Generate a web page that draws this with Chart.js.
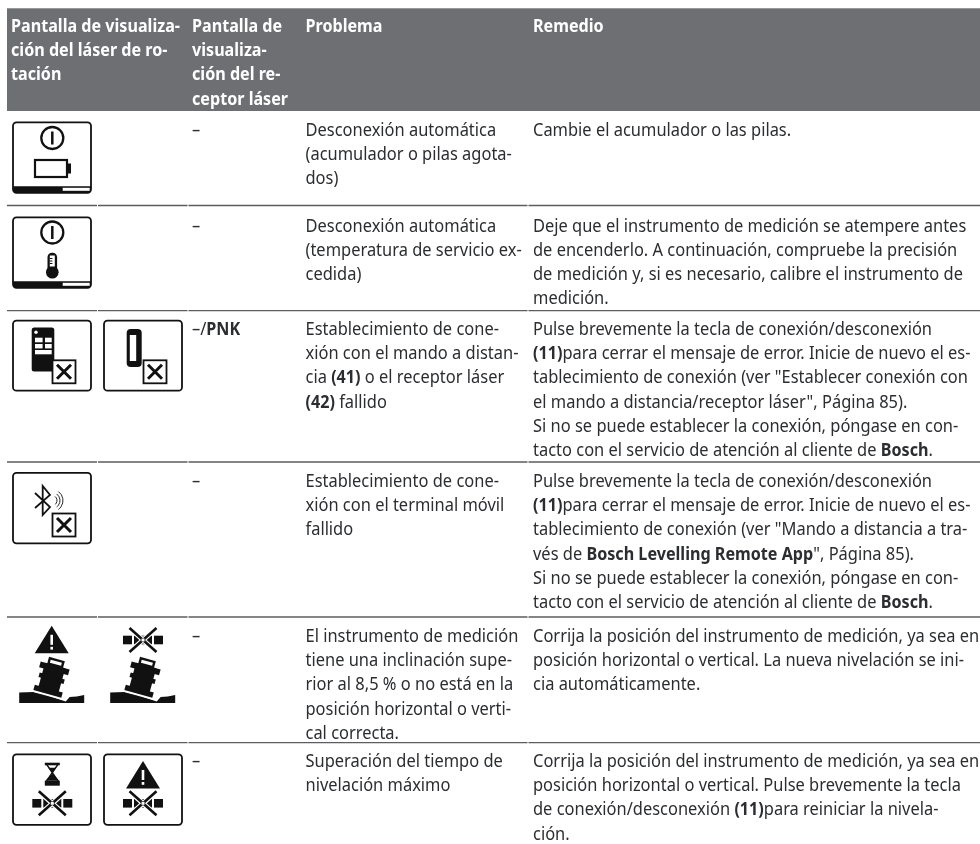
<!DOCTYPE html>
<html>
<head>
<meta charset="utf-8">
<style>
  html, body { margin: 0; padding: 0; background: #fff; }
  #wrap { position: relative; width: 980px; height: 844px; }
</style>
<script src="https://cdn.jsdelivr.net/npm/chart.js@4"></script>
</head>
<body>
<div id="wrap"><canvas id="tableChart"></canvas></div>
<script>
// text of the table, ** marks bold runs
const headers = [
  ['Pantalla de visualiza-', 'ción del láser de ro-', 'tación'],
  ['Pantalla de', 'visualiza-', 'ción del re-', 'ceptor láser'],
  ['Problema'],
  ['Remedio']
];
const receiverCol = ['–', '–', '–/**PNK**', '–', '–', '–'];
const problems = [
  ['Desconexión automática', '(acumulador o pilas agota-', 'dos)'],
  ['Desconexión automática', '(temperatura de servicio ex-', 'cedida)'],
  ['Establecimiento de cone-', 'xión con el mando a distan-', 'cia **(41)** o el receptor láser', '**(42)** fallido'],
  ['Establecimiento de cone-', 'xión con el terminal móvil', 'fallido'],
  ['El instrumento de medición', 'tiene una inclinación supe-', 'rior al 8,5 % o no está en la', 'posición horizontal o verti-', 'cal correcta.'],
  ['Superación del tiempo de', 'nivelación máximo']
];
const remedies = [
  ['Cambie el acumulador o las pilas.'],
  ['Deje que el instrumento de medición se atempere antes', 'de encenderlo. A continuación, compruebe la precisión', 'de medición y, si es necesario, calibre el instrumento de', 'medición.'],
  ['Pulse brevemente la tecla de conexión/desconexión', '**(11)**para cerrar el mensaje de error. Inicie de nuevo el es-', 'tablecimiento de conexión (ver "Establecer conexión con', 'el mando a distancia/receptor láser", Página 85).', 'Si no se puede establecer la conexión, póngase en con-', 'tacto con el servicio de atención al cliente de **Bosch**.'],
  ['Pulse brevemente la tecla de conexión/desconexión', '**(11)**para cerrar el mensaje de error. Inicie de nuevo el es-', 'tablecimiento de conexión (ver "Mando a distancia a tra-', 'vés de **Bosch Levelling Remote App**", Página 85).', 'Si no se puede establecer la conexión, póngase en con-', 'tacto con el servicio de atención al cliente de **Bosch**.'],
  ['Corrija la posición del instrumento de medición, ya sea en', 'posición horizontal o vertical. La nueva nivelación se ini-', 'cia automáticamente.'],
  ['Corrija la posición del instrumento de medición, ya sea en', 'posición horizontal o vertical. Pulse brevemente la tecla', 'de conexión/desconexión **(11)**para reiniciar la nivela-', 'ción.']
];

// layout
const W = 980, H = 844;
const colText = [11, 192, 305.5, 533];
const colEdges = [7, 97.5, 188, 528, 980];
const rowLines = [205.5, 310.7, 462, 617, 742.7];
const firstBase = [136, 231.5, 335, 487, 642, 767];
const PITCH = 24.2;
const FONT = '"Noto Sans"';
const SIZE = 18.5;
const INK = '#2b2d30', HEAD = '#6e6f73', RULE = '#5c5d60';
// the original face is condensed, so the text is squeezed to the widths in the picture
let regularSqueeze = 1, boldSqueeze = 1;

function fitSqueeze(ctx) {
  ctx.save();
  ctx.font = SIZE + 'px ' + FONT;
  regularSqueeze = 399 / ctx.measureText(remedies[2][0]).width;
  ctx.font = 'bold ' + SIZE + 'px ' + FONT;
  boldSqueeze = 169 / ctx.measureText(headers[0][0]).width;
  ctx.restore();
}

function drawRuns(ctx, line, x, y, color) {
  const parts = line.split('**');
  ctx.fillStyle = color;
  ctx.textBaseline = 'alphabetic';
  parts.forEach((part, i) => {
    if (!part) return;
    const bold = i % 2 === 1;
    const k = bold ? boldSqueeze : regularSqueeze;
    ctx.font = (bold ? 'bold ' : '') + SIZE + 'px ' + FONT;
    ctx.save();
    ctx.translate(x, y);
    ctx.scale(k, 1);
    ctx.fillText(part, 0, 0);
    ctx.restore();
    x += ctx.measureText(part).width * k;
  });
}

function box(ctx, x, y, w, h) {
  ctx.lineWidth = 1.8;
  ctx.strokeStyle = '#111';
  ctx.beginPath();
  ctx.roundRect(x, y, w, h, 3.5);
  ctx.stroke();
}

function statusBar(ctx, x, y) {
  ctx.fillStyle = '#111';
  ctx.beginPath();
  ctx.roundRect(x, y + 64, 78, 6.5, [0, 0, 3.5, 3.5]);
  ctx.fill();
  ctx.fillStyle = '#fff';
  ctx.fillRect(x + 49.7, y + 65.5, 27, 3);
}

function powerSign(ctx, cx, cy) {
  ctx.strokeStyle = '#111';
  ctx.lineWidth = 2.3;
  ctx.beginPath();
  ctx.arc(cx, cy, 11, 0, Math.PI * 2);
  ctx.stroke();
  ctx.lineWidth = 2.5;
  ctx.beginPath();
  ctx.moveTo(cx, cy - 6.5);
  ctx.lineTo(cx, cy + 6.5);
  ctx.stroke();
}

function crossBox(ctx, x, y) {
  ctx.fillStyle = '#fff';
  ctx.strokeStyle = '#111';
  ctx.lineWidth = 1.8;
  ctx.fillRect(x, y, 23, 23);
  ctx.strokeRect(x, y, 23, 23);
  ctx.lineWidth = 3;
  ctx.beginPath();
  ctx.moveTo(x + 4.5, y + 4.5); ctx.lineTo(x + 18.5, y + 18.5);
  ctx.moveTo(x + 18.5, y + 4.5); ctx.lineTo(x + 4.5, y + 18.5);
  ctx.stroke();
}

function warnTriangle(ctx, cx, top) {
  ctx.fillStyle = '#111';
  ctx.beginPath();
  ctx.moveTo(cx, top);
  ctx.lineTo(cx + 17, top + 27.5);
  ctx.lineTo(cx - 17, top + 27.5);
  ctx.closePath();
  ctx.fill();
  ctx.fillStyle = '#fff';
  ctx.fillRect(cx - 1.3, top + 9, 2.6, 10);
  ctx.fillRect(cx - 1.3, top + 21, 2.6, 2.8);
}

function noLevel(ctx, cx, cy) {
  ctx.fillStyle = '#111';
  ctx.fillRect(cx - 20, cy - 4.3, 9, 8.6);
  ctx.fillRect(cx + 11, cy - 4.3, 9, 8.6);
  ctx.fillRect(cx - 9, cy - 4.3, 18, 8.6);
  ctx.strokeStyle = '#fff';
  ctx.lineWidth = 5;
  ctx.beginPath();
  ctx.moveTo(cx - 13.5, cy - 12); ctx.lineTo(cx + 13.5, cy + 12);
  ctx.moveTo(cx + 13.5, cy - 12); ctx.lineTo(cx - 13.5, cy + 12);
  ctx.stroke();
  ctx.strokeStyle = '#111';
  ctx.lineWidth = 2.6;
  ctx.stroke();
  ctx.fillStyle = '#fff';
  ctx.fillRect(cx - 1.5, cy - 1.5, 3, 3);
}

function tiltedTool(ctx, cx, top) {
  // ground, cut by the tilted foot of the instrument
  ctx.fillStyle = '#111';
  ctx.beginPath();
  ctx.moveTo(cx - 32.5, top + 38.5);
  ctx.lineTo(cx - 18, top + 38);
  ctx.lineTo(cx - 5, top + 41);
  ctx.lineTo(cx + 14, top + 47.5);
  ctx.lineTo(cx + 18, top + 43);
  ctx.lineTo(cx + 25, top + 42.5);
  ctx.lineTo(cx + 32.5, top + 41);
  ctx.lineTo(cx + 32.5, top + 49);
  ctx.lineTo(cx - 32.5, top + 49);
  ctx.closePath();
  ctx.fill();
  // body
  ctx.save();
  ctx.translate(cx, top + 24);
  ctx.rotate(0.27);
  ctx.strokeStyle = '#fff';
  ctx.lineWidth = 2;
  ctx.beginPath();
  ctx.moveTo(-17, 17.5); ctx.lineTo(17, 17.5);
  ctx.stroke();
  ctx.fillStyle = '#111';
  ctx.fillRect(-15, -13, 30, 6);
  ctx.fillRect(-10.5, -13, 21, 28);
  ctx.fillRect(-13, -2, 26, 4.5);
  ctx.fillRect(-14.5, 11, 29, 5.5);
  ctx.strokeStyle = '#111';
  ctx.lineWidth = 2.4;
  ctx.strokeRect(-7, -18.5, 14, 5.5);
  ctx.restore();
}

function hourglass(ctx, cx, top) {
  ctx.fillStyle = '#111';
  ctx.fillRect(cx - 7.5, top, 15, 2.6);
  ctx.strokeStyle = '#111';
  ctx.lineWidth = 1.5;
  ctx.beginPath();
  ctx.moveTo(cx - 5.5, top + 2); ctx.lineTo(cx + 5.5, top + 18);
  ctx.moveTo(cx + 5.5, top + 2); ctx.lineTo(cx - 5.5, top + 18);
  ctx.stroke();
  ctx.beginPath();
  ctx.moveTo(cx - 4, top + 5); ctx.lineTo(cx + 4, top + 5); ctx.lineTo(cx, top + 10);
  ctx.closePath();
  ctx.fill();
  ctx.beginPath();
  ctx.moveTo(cx, top + 11); ctx.lineTo(cx + 7, top + 18); ctx.lineTo(cx - 7, top + 18);
  ctx.closePath();
  ctx.fill();
  ctx.fillRect(cx - 7.5, top + 18, 15, 5);
}

function drawIcons(ctx) {
  const x1 = 13, x2 = 104;
  // row 1, battery
  box(ctx, x1, 122.3, 78, 70.5);
  statusBar(ctx, x1, 122.3);
  powerSign(ctx, 52.3, 138);
  ctx.strokeStyle = '#111';
  ctx.lineWidth = 2.2;
  ctx.strokeRect(35, 160, 32, 17);
  ctx.fillStyle = '#111';
  ctx.fillRect(67, 163.5, 4, 10);
  // row 2, thermometer
  box(ctx, x1, 217.3, 78, 70.5);
  statusBar(ctx, x1, 217.3);
  powerSign(ctx, 52.3, 232.5);
  ctx.fillStyle = '#111';
  ctx.beginPath();
  ctx.roundRect(47.5, 252.7, 9.6, 22, 4.5);
  ctx.fill();
  ctx.beginPath();
  ctx.arc(52.3, 272.3, 6.3, 0, Math.PI * 2);
  ctx.fill();
  ctx.fillStyle = '#fff';
  ctx.fillRect(49.8, 255.5, 5, 11);
  ctx.fillStyle = '#111';
  ctx.fillRect(49.8, 258, 2.6, 1);
  ctx.fillRect(49.8, 260.5, 2.6, 1);
  ctx.fillRect(49.8, 263, 2.6, 1);
  // row 3, remote control and receiver
  box(ctx, x1, 320.7, 78, 70);
  ctx.fillStyle = '#111';
  ctx.beginPath();
  ctx.roundRect(31.7, 327.5, 22.6, 44, 2.5);
  ctx.fill();
  ctx.fillStyle = '#fff';
  ctx.beginPath();
  ctx.arc(36, 332.2, 1.7, 0, Math.PI * 2);
  ctx.fill();
  ctx.fillRect(35, 337.7, 7.6, 4.6);
  ctx.fillRect(45, 337.7, 6.7, 4.6);
  ctx.fillRect(35, 344, 7.6, 4.4);
  ctx.fillRect(45, 344, 6.7, 4.4);
  ctx.fillRect(35, 350, 16.7, 4.3);
  crossBox(ctx, 52.5, 360.3);
  box(ctx, x2, 320.7, 78, 70);
  ctx.fillStyle = '#111';
  ctx.beginPath();
  ctx.roundRect(126.7, 329, 15, 38, 4);
  ctx.fill();
  ctx.fillStyle = '#fff';
  ctx.fillRect(129.8, 335, 6.4, 26);
  crossBox(ctx, 143.5, 360.3);
  // row 4, bluetooth
  box(ctx, x1, 472.8, 78, 70.5);
  ctx.strokeStyle = '#111';
  ctx.lineWidth = 1.8;
  ctx.beginPath();
  ctx.moveTo(35, 493); ctx.lineTo(50, 507); ctx.lineTo(42.7, 515);
  ctx.lineTo(42.7, 486); ctx.lineTo(50, 495); ctx.lineTo(35, 508);
  ctx.stroke();
  ctx.lineWidth = 0.9;
  [5, 8, 11].forEach(r => {
    ctx.beginPath();
    ctx.arc(52, 500.5, r, -0.95, 0.95);
    ctx.stroke();
  });
  crossBox(ctx, 52.5, 513.5);
  // row 5, tilted
  warnTriangle(ctx, 51.7, 625.8);
  tiltedTool(ctx, 51.7, 654);
  noLevel(ctx, 143, 640);
  tiltedTool(ctx, 142.7, 654);
  // row 6, time out
  box(ctx, x1, 754.3, 78, 70.5);
  hourglass(ctx, 52.3, 762.7);
  noLevel(ctx, 52.3, 803.3);
  box(ctx, x2, 754.3, 78, 70.5);
  warnTriangle(ctx, 143, 761);
  noLevel(ctx, 143, 803.3);
}

const tablePlugin = {
  id: 'tablePlugin',
  beforeDatasetsDraw(chart) {
    const ctx = chart.ctx;
    const sx = chart.scales.x, sy = chart.scales.y;
    ctx.save();
    ctx.fillStyle = HEAD;
    ctx.fillRect(sx.getPixelForValue(colEdges[0]), sy.getPixelForValue(8.3), sx.getPixelForValue(colEdges[4]) - sx.getPixelForValue(colEdges[0]), sy.getPixelForValue(111) - sy.getPixelForValue(8.3));
    ctx.restore();
  },
  afterDatasetsDraw(chart) {
    const ctx = chart.ctx;
    const sx = chart.scales.x, sy = chart.scales.y;
    ctx.save();
    fitSqueeze(ctx);
    headers.forEach((lines, c) => {
      lines.forEach((line, i) => {
        drawRuns(ctx, '**' + line + '**', sx.getPixelForValue(colText[c]), sy.getPixelForValue(32 + i * 24.2), '#fff');
      });
    });
    [receiverCol.map(s => [s]), problems, remedies].forEach((col, c) => {
      col.forEach((lines, r) => {
        lines.forEach((line, i) => {
          drawRuns(ctx, line, sx.getPixelForValue(colText[c + 1]), sy.getPixelForValue(firstBase[r] + i * PITCH), INK);
        });
      });
    });
    drawIcons(ctx);
    ctx.restore();
  }
};

// one line segment per row rule and column, with the small gap at the column edge
const ruleSets = [];
rowLines.forEach(y => {
  for (let c = 0; c < colEdges.length - 1; c++) {
    ruleSets.push({
      data: [{ x: colEdges[c] + (c ? 0.5 : 0), y }, { x: colEdges[c + 1] - (c < 3 ? 0.5 : 0), y }],
      showLine: true, borderColor: RULE, borderWidth: 1.3, pointRadius: 0
    });
  }
});

document.addEventListener('DOMContentLoaded', () => {
  new Chart(document.getElementById('tableChart').getContext('2d'), {
    type: 'scatter',
    data: { datasets: ruleSets },
    options: {
      responsive: true,
      maintainAspectRatio: false,
      animation: false,
      layout: { padding: 0 },
      plugins: { legend: { display: false }, tooltip: { enabled: false } },
      scales: {
        x: { type: 'linear', display: false, min: 0, max: W },
        y: { type: 'linear', display: false, min: 0, max: H, reverse: true }
      }
    },
    plugins: [tablePlugin]
  });
});
</script>
</body>
</html>
